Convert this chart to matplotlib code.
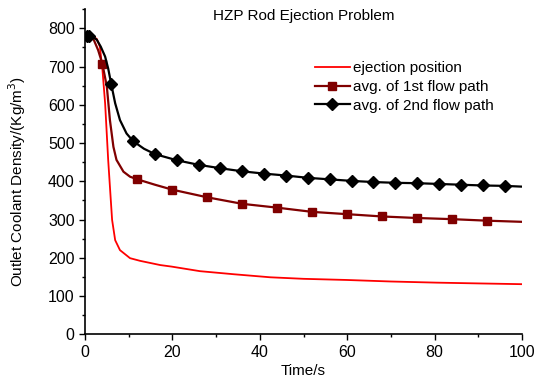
import matplotlib
matplotlib.use("Agg")
import matplotlib.pyplot as plt
from matplotlib.ticker import MultipleLocator

plt.rcParams["font.family"] = ["Liberation Sans", "DejaVu Sans"]

# ejection position (red, no markers)
t_eject = [0.5, 1, 1.9, 2.7, 3.4, 4.0, 4.6, 5.3, 5.9, 6.2, 6.9, 8.0, 10.3, 12.6, 17.2, 19.8,
           26.3, 34, 42.4, 50, 59.9, 70, 80.5, 90, 100]
rho_eject = [779, 779, 778, 772, 752, 690, 604, 456, 351, 299, 246, 220, 199, 192, 181, 177,
             165, 157, 149, 145, 142, 138, 135, 133, 131]

# avg. of 1st flow path (dark red squares)
t_path1 = [0.5, 1.1, 2, 3, 4, 5, 5.7, 6.5, 7.2, 8.8, 10.3, 12, 16, 20, 28, 36, 44, 52, 60, 68,
           76, 84, 92, 100]
rho_path1 = [779, 778, 770, 743, 706, 647, 560, 490, 456, 425, 412, 405, 391, 378, 358, 341, 331,
             320, 314, 308, 304, 301, 297, 294]
mark_path1 = [4, 12, 20, 28, 36, 44, 52, 60, 68, 76, 84, 92]

# avg. of 2nd flow path (black diamonds)
t_path2 = [0.5, 1, 2, 2.7, 3.6, 4.6, 5.3, 6, 6.9, 8, 9.5, 11, 13.5, 16, 21, 26, 31, 36, 41, 46,
           51, 56, 61, 66, 71, 76, 81, 86, 91, 96, 100]
rho_path2 = [779, 779, 776, 770, 752, 726, 695, 654, 604, 560, 525, 505, 485, 471, 455, 443, 434,
             426, 420, 415, 409, 405, 401, 398, 396, 395, 393, 391, 389, 388, 386]
mark_path2 = [0.5, 1, 6, 11, 16, 21, 26, 31, 36, 41, 46, 51, 56, 61, 66, 71, 76, 81, 86, 91, 96]

fig = plt.figure(figsize=(5.36, 3.81), dpi=100)
ax = fig.add_axes([0.1586, 0.1226, 0.974 - 0.1586, 0.976 - 0.1226])

ax.plot(t_eject, rho_eject, color="#ff0000", lw=1.3, label="ejection position")
ax.plot(t_path1, rho_path1, color="#800000", lw=1.6, marker="s", ms=5.5,
        markevery=[t_path1.index(t) for t in mark_path1], label="avg. of 1st flow path")
ax.plot(t_path2, rho_path2, color="black", lw=1.6, marker="D", ms=6.5,
        markevery=[t_path2.index(t) for t in mark_path2], label="avg. of 2nd flow path")

ax.set_xlim(0, 100)
ax.set_ylim(0, 850)
ax.xaxis.set_major_locator(MultipleLocator(20))
ax.xaxis.set_minor_locator(MultipleLocator(10))
ax.set_yticks(range(0, 801, 100))
ax.yaxis.set_minor_locator(MultipleLocator(50))
ax.tick_params(which="both", direction="out", width=1, labelsize=11.5)
ax.tick_params(which="major", length=4)
ax.tick_params(which="minor", length=2.5)
for side in ("top", "right"):
    ax.spines[side].set_visible(False)
for side in ("left", "bottom"):
    ax.spines[side].set_linewidth(1.2)

ax.set_xlabel("Time/s", fontsize=11, labelpad=3)
ax.set_ylabel("Outlet Coolant Density/(Kg/m$^3$)", fontsize=11)
ax.yaxis.set_label_coords(-0.13, 400 / 850)
ax.text(0.5, 0.978, "HZP Rod Ejection Problem", transform=ax.transAxes, ha="center",
        va="center", fontsize=11)

ax.legend(loc="upper left", bbox_to_anchor=(0.526, 0.839), frameon=False, fontsize=11,
          handlelength=2.3, handletextpad=0.2, labelspacing=0.3, borderpad=0,
          borderaxespad=0)

fig.savefig("out.png", dpi=100)
